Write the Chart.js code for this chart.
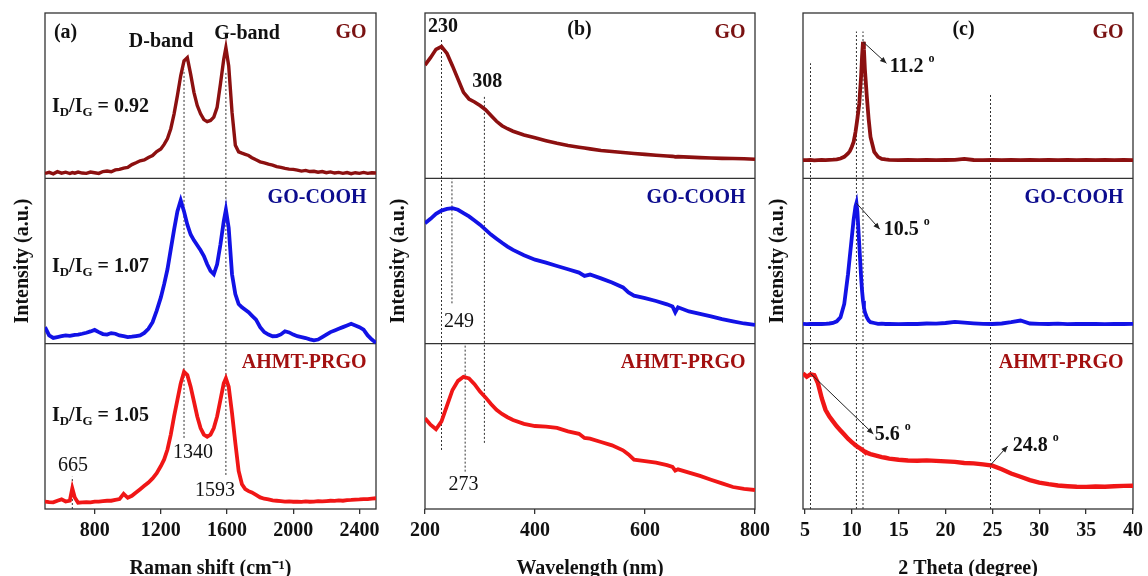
<!DOCTYPE html>
<html>
<head>
<meta charset="utf-8">
<script src="https://cdn.jsdelivr.net/npm/chart.js@4.4.0/dist/chart.umd.min.js"></script>
<style>
  body { margin: 0; background: #fff; }
  #fig { position: relative; width: 1148px; height: 576px; overflow: hidden; background: #fff; }
  #fig canvas { position: absolute; top: 0; }
</style>
</head>
<body>
<div id="fig">
  <canvas id="ramanChart" width="395" height="576" style="left:0"></canvas>
  <canvas id="uvChart" width="395" height="576" style="left:380px"></canvas>
  <canvas id="xrdChart" width="388" height="576" style="left:760px"></canvas>
</div>
<script>
// (a) Raman spectra, intensity normalised inside each band (0..1)
const ramanShift = [
  500, 525, 550, 575, 600, 625, 650, 665, 680, 700,
  725, 750, 775, 800, 825, 850, 875, 900, 925, 950,
  975, 1000, 1025, 1050, 1075, 1100, 1125, 1150, 1175, 1200,
  1220, 1240, 1260, 1280, 1300, 1320, 1340, 1360, 1380, 1400,
  1420, 1440, 1460, 1480, 1500, 1520, 1540, 1560, 1580, 1593,
  1610, 1630, 1650, 1670, 1690, 1710, 1730, 1750, 1775, 1800,
  1825, 1850, 1875, 1900, 1925, 1950, 1975, 2000, 2025, 2050,
  2075, 2100, 2125, 2150, 2175, 2200, 2225, 2250, 2275, 2300,
  2325, 2350, 2375, 2400, 2425, 2450, 2475, 2500
];
const ramanGO = [
  .030, .036, .027, .040, .031, .037, .029, .035, .031, .038,
  .032, .030, .038, .034, .030, .041, .044, .040, .051, .054,
  .062, .066, .083, .094, .106, .111, .126, .138, .162, .178,
  .205, .24, .30, .39, .50, .62, .71, .73, .63, .52,
  .44, .39, .355, .343, .35, .37, .43, .57, .72, .79,
  .68, .40, .20, .16, .152, .145, .138, .125, .112, .10,
  .094, .086, .08, .071, .066, .06, .056, .054, .05, .044,
  .048, .041, .043, .037, .041, .034, .039, .032, .036, .03,
  .035, .028, .034, .03, .036, .03, .034, .032
];
const ramanCOOH = [
  .10, .05, .035, .04, .045, .05, .047, .05, .053, .055,
  .06, .066, .074, .083, .07, .058, .055, .064, .06, .05,
  .045, .04, .042, .046, .05, .065, .09, .13, .20, .28,
  .36, .45, .57, .69, .80, .867, .80, .72, .66, .625,
  .595, .565, .53, .48, .44, .42, .48, .60, .74, .81,
  .70, .42, .30, .24, .22, .205, .19, .17, .145, .10,
  .07, .055, .045, .046, .056, .075, .068, .055, .045, .04,
  .034, .026, .02, .025, .04, .055, .07, .08, .09, .10,
  .11, .12, .11, .10, .085, .05, .025, .005
];
const ramanPRGO = [
  .045, .042, .04, .05, .058, .045, .05, .125, .07, .038,
  .04, .042, .04, .045, .045, .048, .05, .05, .055, .06,
  .092, .068, .08, .10, .12, .14, .16, .185, .216, .26,
  .30, .36, .45, .56, .66, .76, .83, .81, .74, .65,
  .56, .49, .45, .437, .45, .49, .56, .66, .76, .79,
  .74, .58, .40, .23, .15, .12, .108, .10, .085, .07,
  .062, .058, .052, .05, .048, .045, .046, .044, .045, .043,
  .046, .044, .045, .047, .046, .048, .05, .049, .052, .05,
  .054, .055, .057, .058, .06, .06, .063, .065
];
const ramanTicks = [800, 1200, 1600, 2000, 2400];
const ramanMarks = [1340, 1593, 665];

// (b) UV-vis absorption
const wavelength = [
  200, 210, 220, 230, 240, 250, 260, 270, 280, 290,
  300, 310, 320, 330, 340, 350, 360, 380, 400, 420,
  440, 460, 480, 490, 500, 520, 540, 560, 570, 580,
  600, 620, 640, 650, 655, 660, 680, 700, 720, 740,
  760, 780, 800
];
const uvGO = [
  .685, .73, .78, .797, .755, .68, .60, .52, .48, .462,
  .44, .415, .38, .345, .318, .30, .285, .262, .245, .228,
  .212, .198, .188, .183, .178, .168, .162, .156, .153, .15,
  .145, .14, .135, .133, .13, .131, .128, .125, .123, .121,
  .12, .118, .115
];
const uvCOOH = [
  .728, .755, .785, .805, .815, .82, .81, .79, .77, .745,
  .72, .69, .66, .635, .61, .587, .567, .535, .508, .49,
  .47, .45, .43, .41, .418, .395, .37, .34, .31, .29,
  .275, .258, .238, .225, .19, .22, .195, .18, .165, .148,
  .135, .122, .113
];
const uvPRGO = [
  .549, .51, .482, .53, .625, .72, .775, .80, .79, .755,
  .71, .675, .635, .60, .575, .555, .538, .515, .502, .498,
  .49, .47, .455, .43, .425, .405, .385, .355, .33, .298,
  .29, .28, .265, .255, .232, .24, .22, .20, .177, .155,
  .133, .122, .115
];
const uvTicks = [200, 400, 600, 800];
const uvMarks = [230, 308, 249, 273];

// (c) XRD patterns
const twoTheta = [
  4.8, 5.2, 5.6, 6.0, 6.4, 6.8, 7.2, 7.6, 8.0, 8.4,
  8.8, 9.2, 9.6, 9.8, 10.0, 10.2, 10.4, 10.5, 10.6, 10.8,
  11.0, 11.1, 11.2, 11.3, 11.4, 11.6, 11.8, 12.0, 12.4, 12.8,
  13.2, 13.6, 14, 15, 16, 17, 18, 19, 20, 21,
  22, 23, 24, 25, 26, 27, 28, 29, 30, 31,
  32, 33, 34, 35, 36, 37, 38, 39, 40
];
const xrdGO = [
  .11, .11, .112, .109, .11, .111, .11, .112, .113, .115,
  .12, .13, .15, .165, .19, .22, .28, .32, .36, .45,
  .62, .74, .826, .78, .66, .50, .36, .25, .16, .13,
  .118, .114, .112, .11, .111, .11, .112, .11, .111, .112,
  .118, .111, .11, .112, .11, .111, .11, .112, .11, .111,
  .11, .112, .11, .111, .11, .112, .11, .111, .11
];
const xrdCOOH = [
  .12, .118, .12, .119, .12, .119, .12, .122, .125, .135,
  .16, .24, .42, .53, .64, .75, .83, .85, .80, .60,
  .40, .32, .26, .22, .19, .16, .14, .13, .125, .12,
  .121, .119, .12, .118, .12, .119, .122, .121, .125, .132,
  .127, .123, .12, .119, .122, .13, .14, .122, .12, .119,
  .121, .118, .12, .119, .12, .118, .12, .119, .12
];
const xrdPRGO = [
  .82, .80, .815, .81, .76, .67, .60, .56, .53, .50,
  .475, .45, .425, .415, .405, .395, .385, .382, .377, .37,
  .362, .358, .355, .35, .347, .342, .336, .332, .326, .32,
  .314, .31, .305, .298, .293, .292, .294, .291, .288, .285,
  .278, .276, .27, .262, .24, .215, .195, .175, .16, .15,
  .142, .138, .135, .134, .136, .135, .138, .14, .141
];
const xrdTicks = [5, 10, 15, 20, 25, 30, 35, 40];
const xrdMarks = [5.6, 10.5, 11.2, 24.8];

const samples = ['GO', 'GO-COOH', 'AHMT-PRGO'];
const lineColors = ['#8c1010', '#1212e6', '#f01616'];
const nameColors = ['#7a1212', '#0c0c8e', '#a31010'];

const SERIF = '"Liberation Serif", "Times New Roman", serif';
Chart.defaults.font.family = SERIF;
Chart.defaults.color = '#111';

// writes a run of text pieces (for subscripts / superscripts)
function drawParts(ctx, parts, x, y, align, color) {
  const fontOf = p => (p.bold === false ? 'normal' : 'bold') + ' ' + (p.size || 20) + 'px ' + SERIF;
  let total = 0;
  parts.forEach(p => { ctx.font = fontOf(p); total += ctx.measureText(p.t).width; });
  let cx = align === 'right' ? x - total : align === 'center' ? x - total / 2 : x;
  ctx.fillStyle = color;
  ctx.textBaseline = 'middle';
  ctx.textAlign = 'left';
  parts.forEach(p => {
    ctx.font = fontOf(p);
    ctx.fillText(p.t, cx, y + (p.dy || 0));
    cx += ctx.measureText(p.t).width;
  });
}

function drawArrow(ctx, x0, y0, x1, y1) {
  const ang = Math.atan2(y1 - y0, x1 - x0);
  ctx.beginPath();
  ctx.moveTo(x0, y0);
  ctx.lineTo(x1, y1);
  ctx.stroke();
  ctx.beginPath();
  ctx.moveTo(x1, y1);
  ctx.lineTo(x1 - 7 * Math.cos(ang - 0.4), y1 - 7 * Math.sin(ang - 0.4));
  ctx.lineTo(x1 - 7 * Math.cos(ang + 0.4), y1 - 7 * Math.sin(ang + 0.4));
  ctx.closePath();
  ctx.fill();
}

const ratio = v => [{ t: 'I' }, { t: 'D', size: 13, dy: 6 }, { t: '/I' }, { t: 'G', size: 13, dy: 6 }, { t: ' = ' + v }];
const degree = v => [{ t: v }, { t: ' ' }, { t: 'o', size: 12, dy: -8 }];

// frame, band separators, sample names, notes and arrows
const decor = {
  id: 'decor',
  beforeDatasetsDraw(chart) {
    const { ctx, chartArea: a, scales: { y } } = chart;
    ctx.save();
    ctx.strokeStyle = '#333';
    ctx.lineWidth = 1.3;
    ctx.strokeRect(a.left, a.top, a.right - a.left, a.bottom - a.top);
    [1, 2].forEach(v => {
      const py = y.getPixelForValue(v);
      ctx.beginPath();
      ctx.moveTo(a.left, py);
      ctx.lineTo(a.right, py);
      ctx.stroke();
    });
    ctx.restore();
  },
  afterDatasetsDraw(chart, args, opts) {
    const { ctx, chartArea: a, scales: { x, y } } = chart;
    ctx.save();
    samples.forEach((name, i) => {
      drawParts(ctx, [{ t: name }], a.right - 9.5, y.getPixelForValue(3 - i) + 19.5, 'right', nameColors[i]);
    });
    (opts.notes || []).forEach(n => {
      drawParts(ctx, n.parts, x.getPixelForValue(n.x), y.getPixelForValue(n.y), n.align || 'left', '#111');
    });
    ctx.strokeStyle = '#222';
    ctx.fillStyle = '#222';
    ctx.lineWidth = 1;
    (opts.arrows || []).forEach(r => {
      drawArrow(ctx, x.getPixelForValue(r[0]), y.getPixelForValue(r[1]),
        x.getPixelForValue(r[2]), y.getPixelForValue(r[3]));
    });
    ctx.restore();
  }
};

function band(xs, ys, offset, color, width) {
  return {
    data: xs.map((v, i) => ({ x: v, y: ys[i] + offset })),
    borderColor: color,
    borderWidth: width,
    pointRadius: 0,
    tension: 0,
    fill: false,
    order: 1
  };
}

function guide(x, y0, y1) {
  return {
    data: [{ x: x, y: y0 }, { x: x, y: y1 }],
    borderColor: '#333',
    borderWidth: 1,
    borderDash: [2, 2],
    pointRadius: 0,
    order: 2
  };
}

function makeChart(id, cfg) {
  return new Chart(document.getElementById(id), {
    type: 'line',
    data: { datasets: cfg.datasets },
    plugins: [decor],
    options: {
      responsive: false,
      animation: false,
      events: [],
      layout: { padding: { top: 13, right: cfg.padRight, bottom: 0, left: 0 } },
      plugins: {
        legend: { display: false },
        tooltip: { enabled: false },
        decor: { notes: cfg.notes, arrows: cfg.arrows }
      },
      scales: {
        x: {
          type: 'linear',
          min: cfg.min,
          max: cfg.max,
          grid: {
            display: true,
            drawOnChartArea: false,
            drawTicks: true,
            tickLength: 5,
            color: '#333',
            lineWidth: 1.3
          },
          border: { display: false },
          ticks: {
            color: '#111',
            padding: 5,
            font: { size: 20, weight: 'bold' },
            callback: v => String(v)
          },
          afterBuildTicks: s => { s.ticks = cfg.ticks.map(v => ({ value: v })); },
          afterFit: s => { s.height = 67; },
          title: {
            display: true,
            text: cfg.xTitle,
            color: '#111',
            font: { size: 20, weight: 'bold' },
            padding: { top: 0, bottom: -5 }
          }
        },
        y: {
          min: 0,
          max: 3,
          grid: { display: false },
          border: { display: false },
          ticks: { display: false },
          afterFit: s => { s.width = cfg.yWidth; },
          title: {
            display: true,
            text: 'Intensity (a.u.)',
            color: '#111',
            font: { size: 20, weight: 'bold' },
            padding: { top: cfg.yPad, bottom: 0 }
          }
        }
      }
    }
  });
}

// (a) Raman
makeChart('ramanChart', {
  min: 500, max: 2500, ticks: ramanTicks, padRight: 19, yWidth: 45, yPad: 11,
  xTitle: 'Raman shift (cm\u207B\u00B9)',
  datasets: [
    guide(ramanMarks[0], 0.43, 2.656),
    guide(ramanMarks[1], 0.206, 2.644),
    guide(ramanMarks[2], 0, 0.195),
    band(ramanShift, ramanGO, 2, lineColors[0], 3.4),
    band(ramanShift, ramanCOOH, 1, lineColors[1], 3.8),
    band(ramanShift, ramanPRGO, 0, lineColors[2], 3.8)
  ],
  notes: [
    { x: 554, y: 2.879, parts: [{ t: '(a)' }] },
    { x: 1201, y: 2.825, align: 'center', parts: [{ t: 'D-band' }] },
    { x: 1721, y: 2.873, align: 'center', parts: [{ t: 'G-band' }] },
    { x: 542, y: 2.431, parts: ratio('0.92') },
    { x: 542, y: 1.466, parts: ratio('1.07') },
    { x: 542, y: 0.5625, parts: ratio('1.05') },
    { x: 1394, y: 0.339, align: 'center', parts: [{ t: '1340', bold: false }] },
    { x: 669, y: 0.26, align: 'center', parts: [{ t: '665', bold: false }] },
    { x: 1527, y: 0.111, align: 'center', parts: [{ t: '1593', bold: false }] }
  ]
});

// (b) UV-vis
makeChart('uvChart', {
  min: 200, max: 800, ticks: uvTicks, padRight: 19, yWidth: 45, yPad: 7,
  xTitle: 'Wavelength (nm)',
  datasets: [
    guide(uvMarks[0], 0.357, 2.847),
    guide(uvMarks[1], 0.40, 2.504),
    guide(uvMarks[2], 1.244, 2.0),
    guide(uvMarks[3], 0.226, 1.0),
    band(wavelength, uvGO, 2, lineColors[0], 3.6),
    band(wavelength, uvCOOH, 1, lineColors[1], 3.8),
    band(wavelength, uvPRGO, 0, lineColors[2], 3.8)
  ],
  notes: [
    { x: 232.6, y: 2.917, align: 'center', parts: [{ t: '230' }] },
    { x: 313.3, y: 2.585, align: 'center', parts: [{ t: '308' }] },
    { x: 481, y: 2.897, align: 'center', parts: [{ t: '(b)' }] },
    { x: 261.6, y: 1.133, align: 'center', parts: [{ t: '249', bold: false }] },
    { x: 269.8, y: 0.145, align: 'center', parts: [{ t: '273', bold: false }] }
  ]
});

// (c) XRD
makeChart('xrdChart', {
  min: 4.8, max: 40, ticks: xrdTicks, padRight: 14, yWidth: 43, yPad: 6,
  xTitle: '2 Theta (degree)',
  datasets: [
    guide(xrdMarks[0], 0, 2.696),
    guide(xrdMarks[1], 0, 2.888),
    guide(xrdMarks[2], 0, 2.888),
    guide(xrdMarks[3], 0, 2.504),
    band(twoTheta, xrdGO, 2, lineColors[0], 3.8),
    band(twoTheta, xrdCOOH, 1, lineColors[1], 3.8),
    band(twoTheta, xrdPRGO, 0, lineColors[2], 4.4)
  ],
  notes: [
    { x: 21.92, y: 2.897, align: 'center', parts: [{ t: '(c)' }] },
    { x: 14.05, y: 2.675, parts: degree('11.2') },
    { x: 13.41, y: 1.688, parts: degree('10.5') },
    { x: 12.46, y: 0.448, parts: degree('5.6') },
    { x: 27.16, y: 0.381, parts: degree('24.8') }
  ],
  arrows: [
    [11.2, 2.826, 13.7, 2.696],
    [10.5, 1.85, 12.99, 1.692],
    [5.6, 0.82, 12.3, 0.454],
    [24.8, 0.266, 26.63, 0.381]
  ]
});
</script>
</body>
</html>
